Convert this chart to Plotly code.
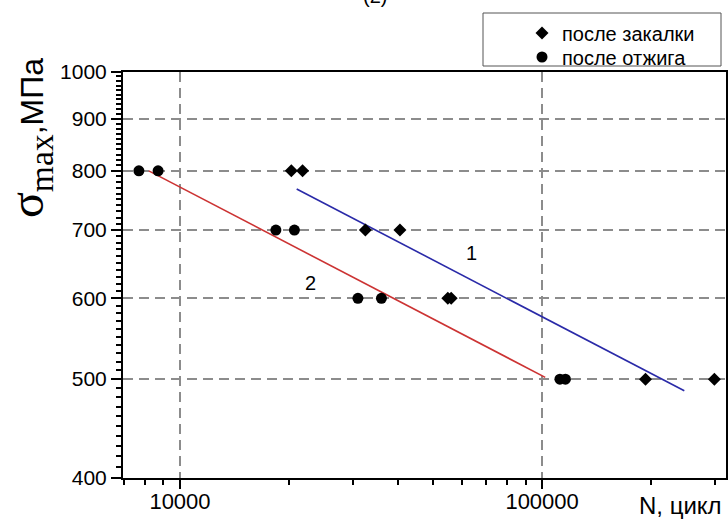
import math
import plotly.graph_objects as go

# data
zak_x = [20300, 21800, 32500, 40500, 54900, 56100, 193000, 299000]
zak_y = [800, 800, 700, 700, 600, 600, 500, 500]
otzh_x = [7700, 8700, 18400, 20700, 31000, 36000, 112000, 116000]
otzh_y = [800, 800, 700, 700, 600, 600, 500, 500]
fit1_x = [21000, 247000]
fit1_y = [768, 487]
fit2_x = [8200, 102000]
fit2_y = [800, 502]
x_ticks = [10000, 100000]
x_minor = [7000, 8000, 9000, 20000, 30000, 40000, 50000, 60000, 70000, 80000, 90000, 200000, 300000]
y_ticks = [400, 500, 600, 700, 800, 900, 1000]
y_minor = [v for v in range(410, 1000, 10) if v % 100 != 0]

SANS = "Liberation Sans, Arial, sans-serif"

W, H = 728, 519
L, R, T, B = 123, 2, 72, 41
pw, ph = W - L - R, H - T - B

def px(xpix):
    return (xpix - L) / pw

def py(ypix):
    return (H - B - ypix) / ph

fig = go.Figure()
fig.add_trace(go.Scatter(x=fit1_x, y=fit1_y, mode="lines", line=dict(color="#2a2aa8", width=1.6),
                         showlegend=False, hoverinfo="skip"))
fig.add_trace(go.Scatter(x=fit2_x, y=fit2_y, mode="lines", line=dict(color="#cc3333", width=1.6),
                         showlegend=False, hoverinfo="skip"))
fig.add_trace(go.Scatter(x=zak_x, y=zak_y, mode="markers", name="после закалки", legend="legend",
                         marker=dict(symbol="diamond", size=10, color="black")))
fig.add_trace(go.Scatter(x=otzh_x, y=otzh_y, mode="markers", name="после отжига", legend="legend2",
                         marker=dict(symbol="circle", size=11, color="black")))

leg_common = dict(xanchor="left", yanchor="middle", bgcolor="rgba(0,0,0,0)", borderwidth=0,
                  font=dict(family=SANS, size=20))

fig.update_layout(
    width=W, height=H,
    margin=dict(l=L, r=R, t=T, b=B, pad=0),
    plot_bgcolor="white", paper_bgcolor="white",
    font=dict(family=SANS, size=20, color="black"),
    xaxis=dict(type="log", range=[math.log10(6960), math.log10(322000)], automargin=False,
               tickvals=x_ticks, ticktext=["10000", "100000"],
               ticks="outside", ticklen=9, tickwidth=2, tickcolor="black",
               ticklabelstandoff=-6,
               showline=True, linecolor="black", linewidth=2, mirror=True,
               showgrid=True, gridcolor="#8c8c8c", gridwidth=1.5, griddash="10px,6px",
               zeroline=False, tickfont=dict(size=22),
               minor=dict(tickvals=x_minor, ticks="outside", ticklen=5, tickwidth=2,
                          tickcolor="black", showgrid=False)),
    yaxis=dict(type="log", range=[math.log10(400), math.log10(1000)], automargin=False,
               tickvals=y_ticks, ticktext=[str(v) for v in y_ticks],
               ticks="outside", ticklen=10, tickwidth=2, tickcolor="black",
               showline=True, linecolor="black", linewidth=2, mirror=True,
               showgrid=True, gridcolor="#8c8c8c", gridwidth=1.5, griddash="10px,6px",
               zeroline=False, tickfont=dict(size=21),
               minor=dict(tickvals=y_minor, ticks="outside", ticklen=5, tickwidth=1.5,
                          tickcolor="black", showgrid=False)),
    legend=dict(x=px(522), y=py(33), **leg_common),
    legend2=dict(x=px(522), y=py(57), **leg_common),
    showlegend=True,
)

fig.add_shape(type="rect", xref="paper", yref="paper",
              x0=px(483), x1=px(721), y0=py(66), y1=py(13),
              line=dict(color="#555555", width=1))

fig.add_annotation(text="(2)", xref="paper", yref="paper", x=px(375), y=py(9),
                   xanchor="center", yanchor="bottom", showarrow=False,
                   font=dict(family=SANS, size=20))
fig.add_annotation(text="1", x=math.log10(63800), y=math.log10(664), showarrow=False,
                   font=dict(family=SANS, size=20))
fig.add_annotation(text="2", x=math.log10(23000), y=math.log10(621), showarrow=False,
                   font=dict(family=SANS, size=20))
fig.add_annotation(text="N, цикл", xref="paper", yref="paper", x=px(724), y=py(505),
                   xanchor="right", yanchor="middle", showarrow=False,
                   font=dict(family=SANS, size=24))
fig.add_annotation(text='<span style="font-family:Liberation Serif;font-size:48px">σ<sub>max</sub></span>,МПа',
                   xref="paper", yref="paper", x=px(30), y=py(138),
                   xanchor="center", yanchor="middle", textangle=-90, showarrow=False,
                   font=dict(family=SANS, size=32))

fig.write_html("out.html", config={"displayModeBar": False},
               post_script="document.body.style.margin='0';document.body.style.overflow='hidden';")
